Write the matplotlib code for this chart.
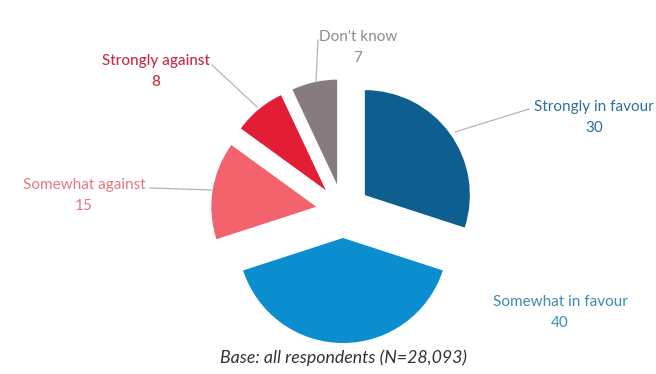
import matplotlib
matplotlib.use("Agg")
import matplotlib.pyplot as plt

categories = ["Strongly in favour", "Somewhat in favour", "Somewhat against", "Strongly against", "Don't know"]
values = [30, 40, 15, 8, 7]
colors = ["#0e5f8f", "#0b8ecf", "#f2636e", "#e21d35", "#887b80"]
label_colors = ["#2c6f98", "#3b8db0", "#e57782", "#c92c45", "#8d8d8d"]
label_weights = ["normal", "normal", "normal", "medium", "normal"]
base_note = "Base: all respondents (N=28,093)"

W, H = 656, 374
fig = plt.figure(figsize=(W / 100, H / 100), dpi=100)
ax = fig.add_axes([0, 0, 1, 1])
ax.set_xlim(0, W)
ax.set_ylim(0, H)
ax.set_aspect("equal")
ax.axis("off")

cx, cy, r = 343, H - 211, 105
ax.pie(values, colors=colors, startangle=90, counterclock=False,
       center=(cx, cy), radius=r, explode=[27] * len(values),
       wedgeprops=dict(linewidth=0))
ax.set_xlim(0, W)
ax.set_ylim(0, H)

font = "Lato"
# label positions (pixel coords from top-left), leader lines
label_pos = [(594, 107), (560, 302), (84, 185), (156, 61), (358, 37)]
leaders = [[(455, 132), (529, 109)], None, [(150, 188), (212, 190)],
           [(212, 65), (257, 107)], [(318, 40), (316, 82)]]

for cat, val, lc, lw_, (lx, ly), ld in zip(categories, values, label_colors, label_weights, label_pos, leaders):
    ax.text(lx, H - ly, cat, color=lc, fontsize=11, family=font, fontweight=lw_,
            ha="center", va="center")
    ax.text(lx, H - ly - 21, str(val), color=lc, fontsize=11, family=font, fontweight=lw_,
            ha="center", va="center")
    if ld:
        ax.plot([p[0] for p in ld], [H - p[1] for p in ld], color="#b5b5b5", lw=0.9)

ax.text(343, H - 358, base_note, fontsize=12.8, family=font, style="italic",
        color="#333333", ha="center", va="center")

fig.savefig("out.png", dpi=100, facecolor="white")
